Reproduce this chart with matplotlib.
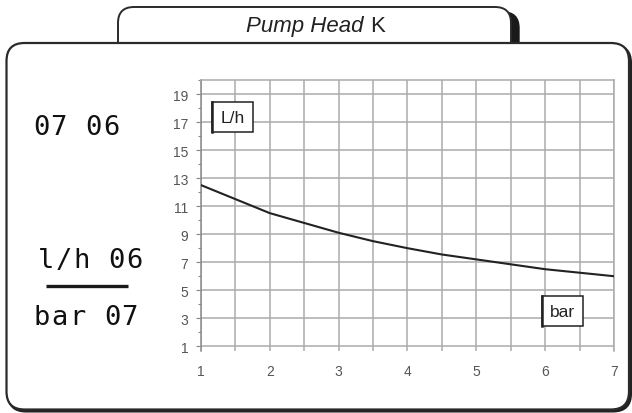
import matplotlib
matplotlib.use("Agg")
import matplotlib.pyplot as plt
from matplotlib.patches import FancyBboxPatch, Rectangle
from matplotlib.ticker import MultipleLocator

# pump curve
pressure_bar = [1, 1.5, 2, 2.5, 3, 3.5, 4, 4.5, 5, 5.5, 6, 6.5, 7]
flow_lh = [12.5, 11.5, 10.5, 9.8, 9.1, 8.5, 8.0, 7.55, 7.2, 6.85, 6.5, 6.25, 6.0]
x_ticks = [1, 2, 3, 4, 5, 6, 7]
y_ticks = [1, 3, 5, 7, 9, 11, 13, 15, 17, 19]

title_italic = "Pump Head"
title_plain = "K"
code_line = "07 06"
flow_line = "l/h 06"
pressure_line = "bar 07"

W, H = 632, 414
fig = plt.figure(figsize=(W / 100, H / 100), dpi=100)

# background layer in pixel coordinates
ov = fig.add_axes([0, 0, 1, 1])
ov.set_xlim(0, W)
ov.set_ylim(H, 0)
ov.axis("off")
ov.set_zorder(0)

# tab on top with its dark shadow
ov.add_patch(FancyBboxPatch((126, 13), 393, 60, boxstyle="round,pad=0,rounding_size=16",
                            fc="#1a1a1a", ec="#1a1a1a", lw=1))
ov.add_patch(FancyBboxPatch((118, 8), 393, 60, boxstyle="round,pad=0,rounding_size=16",
                            fc="white", ec="#2a2a2a", lw=1.4))

# main frame with slight shadow
ov.add_patch(FancyBboxPatch((8, 46), 623, 366.5, boxstyle="round,pad=0,rounding_size=18",
                            fc="#222222", ec="#222222", lw=1.5))
ov.add_patch(FancyBboxPatch((6.5, 44), 622.5, 366.5, boxstyle="round,pad=0,rounding_size=18",
                            fc="white", ec="#2a2a2a", lw=1.6))

ov.text(364, 32.3, title_italic, ha="right", va="baseline", fontsize=16,
        family="Liberation Sans", style="italic", color="#222222")
ov.text(370, 32.3, title_plain, ha="left", va="baseline", fontsize=16,
        family="Liberation Sans", color="#222222")


def spaced_text(s, x0, baseline, pitch=17.5):
    for i, ch in enumerate(s):
        if ch != " ":
            ov.text(x0 + i * pitch, baseline, ch, ha="center", va="baseline",
                    fontsize=19.5, family="DejaVu Sans Mono", color="#111111")


spaced_text(code_line, 41, 135)
spaced_text(flow_line, 46.5, 268)
spaced_text(pressure_line, 42, 325)
ov.plot([46, 128], [287, 287], color="#1a1a1a", lw=2.4, solid_capstyle="butt")

# chart
left, right, top, bottom = 201, 614, 81, 351.5
ax = fig.add_axes([left / W, 1 - bottom / H, (right - left) / W, (bottom - top) / H])
ax.set_zorder(1)
ax.patch.set_alpha(0)

ax.plot(pressure_bar, flow_lh, color="#222222", lw=1.5, solid_joinstyle="round", zorder=4)

ax.set_xlim(1, 7)
ax.set_ylim(0.7, 20)
ax.set_xticks(x_ticks)
ax.xaxis.set_minor_locator(MultipleLocator(0.5))
ax.set_yticks(y_ticks)
ax.yaxis.set_minor_locator(MultipleLocator(1))

grid_col = "#ababab"
ax.grid(True, axis="x", which="both", color=grid_col, lw=1.1)
ax.grid(True, axis="y", which="major", color=grid_col, lw=1.1)
ax.set_axisbelow(True)

ax.tick_params(axis="x", which="both", length=0, pad=9.5, labelsize=10,
               labelcolor="#555555")
ax.tick_params(axis="y", which="major", direction="out", length=3.6, width=0.8,
               color="#888888", pad=5.5, labelsize=10, labelcolor="#555555")
ax.tick_params(axis="y", which="minor", direction="out", length=2.2, width=0.8,
               color="#888888")
for lab in ax.get_xticklabels() + ax.get_yticklabels():
    lab.set_family("Liberation Sans")

ax.spines["bottom"].set_visible(False)
ax.spines["left"].set_color("#8a8a8a")
ax.spines["left"].set_linewidth(1.1)
for side in ("top", "right"):
    ax.spines[side].set_color(grid_col)
    ax.spines[side].set_linewidth(1.1)

# unit boxes
for (bx, by, bw, bh), label in (((212, 103, 41, 30), "L/h"), ((541.5, 297, 41, 30), "bar")):
    ax.add_patch(Rectangle((bx, by), bw, bh, transform=ov.transData, fc="white",
                           ec="#222222", lw=1.1, zorder=6, clip_on=False))
    ax.plot([bx, bx], [by, by + bh], transform=ov.transData, color="#222222",
            lw=1.8, zorder=6, clip_on=False)
    ax.text(bx + bw / 2, by + bh / 2 + 1, label, transform=ov.transData, ha="center",
            va="center", fontsize=12.5, family="Liberation Sans", color="#222222", zorder=7)

fig.savefig("out.png", dpi=100)
